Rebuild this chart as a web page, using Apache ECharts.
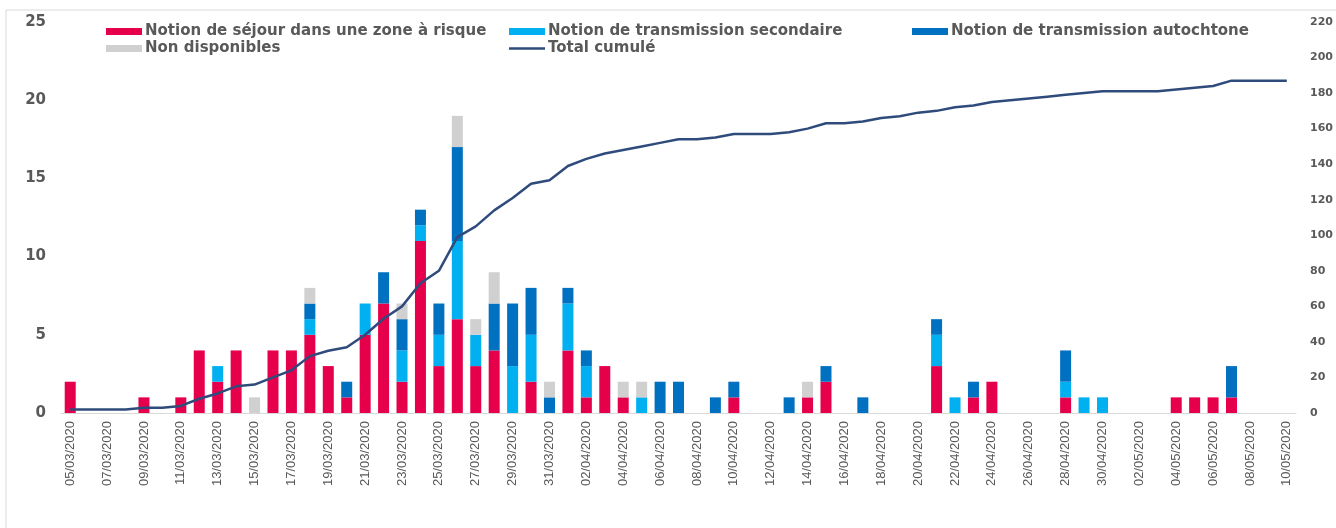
<!DOCTYPE html>
<html>
<head>
<meta charset="utf-8">
<script src="https://cdn.jsdelivr.net/npm/echarts@6.0.0/dist/echarts.min.js"></script>
<style>
  html, body { margin: 0; padding: 0; background: #fff; }
  #chart { width: 1336px; height: 528px; }
</style>
</head>
<body>
<div id="chart"></div>
<script>
// dates 05/03/2020 -> 10/05/2020
const dates = [
  "05/03/2020", "06/03/2020", "07/03/2020", "08/03/2020", "09/03/2020", "10/03/2020", "11/03/2020",
  "12/03/2020", "13/03/2020", "14/03/2020", "15/03/2020", "16/03/2020", "17/03/2020", "18/03/2020",
  "19/03/2020", "20/03/2020", "21/03/2020", "22/03/2020", "23/03/2020", "24/03/2020", "25/03/2020",
  "26/03/2020", "27/03/2020", "28/03/2020", "29/03/2020", "30/03/2020", "31/03/2020", "01/04/2020",
  "02/04/2020", "03/04/2020", "04/04/2020", "05/04/2020", "06/04/2020", "07/04/2020", "08/04/2020",
  "09/04/2020", "10/04/2020", "11/04/2020", "12/04/2020", "13/04/2020", "14/04/2020", "15/04/2020",
  "16/04/2020", "17/04/2020", "18/04/2020", "19/04/2020", "20/04/2020", "21/04/2020", "22/04/2020",
  "23/04/2020", "24/04/2020", "25/04/2020", "26/04/2020", "27/04/2020", "28/04/2020", "29/04/2020",
  "30/04/2020", "01/05/2020", "02/05/2020", "03/05/2020", "04/05/2020", "05/05/2020", "06/05/2020",
  "07/05/2020", "08/05/2020", "09/05/2020", "10/05/2020"
];

const sejour = [
  2, 0, 0, 0, 1, 0, 1, 4, 2, 4, 0, 4, 4, 5, 3, 1, 5, 7, 2, 11, 3, 6, 3, 4, 0, 2, 0,
  4, 1, 3, 1, 0, 0, 0, 0, 0, 1, 0, 0, 0, 1, 2, 0, 0, 0, 0, 0, 3, 0, 1, 2, 0, 0, 0, 1, 0, 0,
  0, 0, 0, 1, 1, 1, 1, 0, 0, 0
];
const secondaire = [
  0, 0, 0, 0, 0, 0, 0, 0, 1, 0, 0, 0, 0, 1, 0, 0, 2, 0, 2, 1, 2, 5, 2, 0, 3, 3, 0,
  3, 2, 0, 0, 1, 0, 0, 0, 0, 0, 0, 0, 0, 0, 0, 0, 0, 0, 0, 0, 2, 1, 0, 0, 0, 0, 0, 1, 1, 1,
  0, 0, 0, 0, 0, 0, 0, 0, 0, 0
];
const autochtone = [
  0, 0, 0, 0, 0, 0, 0, 0, 0, 0, 0, 0, 0, 1, 0, 1, 0, 2, 2, 1, 2, 6, 0, 3, 4, 3, 1,
  1, 1, 0, 0, 0, 2, 2, 0, 1, 1, 0, 0, 1, 0, 1, 0, 1, 0, 0, 0, 1, 0, 1, 0, 0, 0, 0, 2, 0, 0,
  0, 0, 0, 0, 0, 0, 2, 0, 0, 0
];
const nonDispo = [
  0, 0, 0, 0, 0, 0, 0, 0, 0, 0, 1, 0, 0, 1, 0, 0, 0, 0, 1, 0, 0, 2, 1, 2, 0, 0, 1,
  0, 0, 0, 1, 1, 0, 0, 0, 0, 0, 0, 0, 0, 1, 0, 0, 0, 0, 0, 0, 0, 0, 0, 0, 0, 0, 0, 0, 0, 0,
  0, 0, 0, 0, 0, 0, 0, 0, 0, 0
];
const cumul = [
  2, 2, 2, 2, 3, 3, 4, 8, 11, 15, 16, 20, 24, 32, 35, 37, 44, 53, 60, 73, 80, 99, 105, 114, 121, 129, 131,
  139, 143, 146, 148, 150, 152, 154, 154, 155, 157, 157, 157, 158, 160, 163, 163, 164, 166, 167, 169, 170,
  172, 173, 175, 176, 177, 178, 179, 180, 181, 181, 181, 181, 182, 183, 184, 187, 187, 187, 187
];

const leftTicks = [0, 5, 10, 15, 20, 25];
const rightTicks = [0, 20, 40, 60, 80, 100, 120, 140, 160, 180, 200, 220];

const names = [
  "Notion de séjour dans une zone à risque",
  "Notion de transmission secondaire",
  "Notion de transmission autochtone",
  "Non disponibles",
  "Total cumulé"
];

let myChart = echarts.init(document.getElementById("chart"));

function legendAt(name, left, top, icon, h) {
  return {
    data: [{ name: name, icon: icon || "rect" }],
    left: left,
    top: top,
    itemWidth: 36,
    itemHeight: h || 7,
    itemGap: 0,
    selectedMode: false,
    padding: 0,
    textStyle: {
      color: "#595959",
      fontFamily: "DejaVu Sans",
      fontWeight: "bold",
      fontSize: 15,
      padding: [0, 0, 0, -2],
    },
  };
}

function barSeries(name, data, color) {
  return {
    name: name,
    type: "bar",
    stack: "cas",
    barWidth: 11,
    itemStyle: { color: color },
    data: data,
  };
}

var option;
option = {
  animation: false,
  backgroundColor: "#fff",
  graphic: [
    {
      type: "rect",
      shape: { x: 6, y: 10, width: 1340, height: 530 },
      style: { fill: "none", stroke: "#d9d9d9", lineWidth: 1 },
      silent: true,
    },
  ],
  legend: [
    legendAt(names[0], 106, 24),
    legendAt(names[1], 509, 24),
    legendAt(names[2], 912, 24),
    legendAt(names[3], 106, 41),
    legendAt(names[4], 509, 41, "rect", 2.5),
  ],
  grid: {
    left: 61,
    right: 39,
    top: 22,
    bottom: 115,
  },
  xAxis: {
    type: "category",
    data: dates,
    boundaryGap: true,
    axisLine: { lineStyle: { color: "#d9d9d9", width: 1 } },
    axisTick: { show: false },
    axisLabel: {
      interval: 1,
      rotate: 90,
      margin: 8,
      color: "#595959",
      fontFamily: "Liberation Sans Narrow, Liberation Sans",
      fontSize: 13,
    },
  },
  yAxis: [
    {
      type: "value",
      min: leftTicks[0],
      max: leftTicks[leftTicks.length - 1],
      interval: 5,
      splitLine: { show: false },
      axisLine: { show: false },
      axisTick: { show: false },
      axisLabel: {
        margin: 15,
        color: "#595959",
        fontFamily: "DejaVu Sans",
        fontWeight: "bold",
        fontSize: 15,
      },
    },
    {
      type: "value",
      min: rightTicks[0],
      max: rightTicks[rightTicks.length - 1],
      interval: 20,
      splitLine: { show: false },
      axisLine: { show: false },
      axisTick: { show: false },
      axisLabel: {
        margin: 14,
        color: "#595959",
        fontFamily: "DejaVu Sans",
        fontWeight: "bold",
        fontSize: 11,
      },
    },
  ],
  series: [
    barSeries(names[0], sejour, "#e6004c"),
    barSeries(names[1], secondaire, "#00b0f0"),
    barSeries(names[2], autochtone, "#0070c0"),
    barSeries(names[3], nonDispo, "#d0d0d0"),
    {
      name: names[4],
      type: "line",
      yAxisIndex: 1,
      symbol: "none",
      z: 5,
      lineStyle: { color: "#2f4b7c", width: 2.5 },
      itemStyle: { color: "#2f4b7c" },
      data: cumul,
    },
  ],
};

option && myChart.setOption(option);
</script>
</body>
</html>
